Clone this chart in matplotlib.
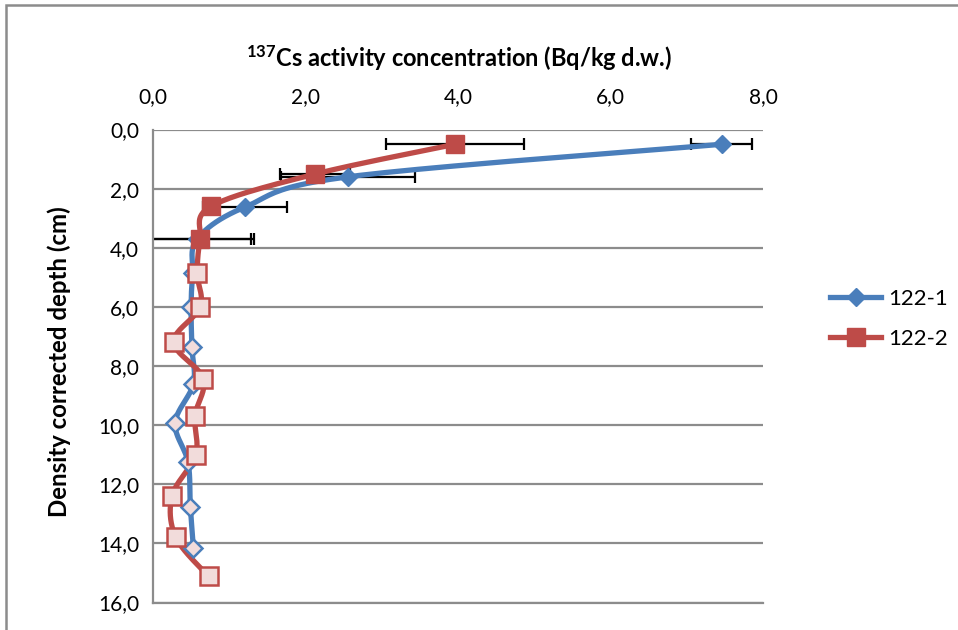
import numpy as np
import matplotlib
matplotlib.use("Agg")
import matplotlib.pyplot as plt
from matplotlib.lines import Line2D
from matplotlib.patches import Rectangle
from matplotlib.ticker import FuncFormatter, MultipleLocator

# ---------------- data ----------------
depth_1 = [0.5, 1.6, 2.62, 3.7, 4.85, 6.0, 7.36, 8.6, 9.93, 11.26, 12.76, 14.16]
conc_1 = [7.46, 2.56, 1.21, 0.58, 0.52, 0.50, 0.51, 0.53, 0.29, 0.46, 0.49, 0.53]
err_1 = [0.40, 0.88, 0.55, 0.71, 0, 0, 0, 0, 0, 0, 0, 0]

depth_2 = [0.5, 1.51, 2.6, 3.72, 4.87, 6.0, 7.19, 8.43, 9.70, 11.0, 12.39, 13.8, 15.12]
conc_2 = [3.96, 2.12, 0.76, 0.62, 0.58, 0.62, 0.27, 0.66, 0.55, 0.56, 0.25, 0.30, 0.73]
err_2 = [0.91, 0.46, 0, 0.71, 0, 0, 0, 0, 0, 0, 0, 0, 0]

n_filled = 4  # first points drawn with solid markers
series_names = ["122-1", "122-2"]

BLUE = "#4A7EBB"
RED = "#BE4B48"
PALE = "#F2DCDB"
GRID = "#8C8C8C"

plt.rcParams["font.family"] = ["Lato", "DejaVu Sans"]
plt.rcParams["mathtext.fontset"] = "custom"
plt.rcParams["mathtext.rm"] = "Lato:bold"
plt.rcParams["mathtext.it"] = "Lato:bold"
plt.rcParams["mathtext.bf"] = "Lato:bold"

W, H = 958, 630
fig = plt.figure(figsize=(W / 100, H / 100), dpi=100)
ax = fig.add_axes([153 / W, (H - 602.5) / H, 610 / W, 473 / H])

ax.set_xlim(0, 8)
ax.set_ylim(16, 0)
ax.xaxis.tick_top()
ax.xaxis.set_major_locator(MultipleLocator(2))
ax.yaxis.set_major_locator(MultipleLocator(2))
fmt = FuncFormatter(lambda v, p: f"{v:.1f}".replace(".", ","))
ax.xaxis.set_major_formatter(fmt)
ax.yaxis.set_major_formatter(fmt)
ax.tick_params(axis="both", length=0, labelsize=15, colors="black")
ax.tick_params(axis="x", pad=16)
ax.tick_params(axis="y", pad=10)
ax.grid(axis="y", color=GRID, lw=1.6)
ax.set_axisbelow(True)
for s in ["top", "right"]:
    ax.spines[s].set_visible(False)
for s in ["left", "bottom"]:
    ax.spines[s].set_color(GRID)
    ax.spines[s].set_linewidth(1.6)


def smooth(xs, ys, n=24):
    pts = ax.transData.transform(np.column_stack([xs, ys]))
    P = np.vstack([pts[0], pts, pts[-1]])
    out = []
    for i in range(1, len(P) - 2):
        p0, p1, p2, p3 = P[i - 1], P[i], P[i + 1], P[i + 2]
        c1 = p1 + (p2 - p0) / 6
        c2 = p2 - (p3 - p1) / 6
        t = np.linspace(0, 1, n)[:, None]
        seg = ((1 - t) ** 3) * p1 + 3 * ((1 - t) ** 2) * t * c1 + 3 * (1 - t) * t ** 2 * c2 + t ** 3 * p2
        out.append(seg if i == 1 else seg[1:])
    out = np.vstack(out)
    d = ax.transData.inverted().transform(out)
    return d[:, 0], d[:, 1]


# error bars (beneath)
for c, d, e in [(conc_1, depth_1, err_1), (conc_2, depth_2, err_2)]:
    c = np.array(c); d = np.array(d); e = np.array(e)
    m = e > 0
    ax.errorbar(c[m], d[m], xerr=e[m], fmt="none", ecolor="black", elinewidth=1.6,
                capsize=4, capthick=1.6, zorder=2)

specs = [(conc_1, depth_1, BLUE, "D", 9.5), (conc_2, depth_2, RED, "s", 13)]
for c, d, col, mk, ms in specs:
    c = np.array(c); d = np.array(d)
    sx, sy = smooth(c, d)
    ax.plot(sx, sy, color=col, lw=3.8, solid_capstyle="round", zorder=3)
    ax.plot(c[n_filled:], d[n_filled:], ls="none", marker=mk, ms=ms, mfc=PALE, mec=col,
            mew=1.8, zorder=4)
    ax.plot(c[:n_filled], d[:n_filled], ls="none", marker=mk, ms=ms, mfc=col, mec=col,
            mew=1.0, zorder=5)

# titles
fig.text(459 / W, 1 - 58 / H, r"$^{137}$Cs activity concentration (Bq/kg d.w.)",
         ha="center", va="center", fontsize=17, fontweight="bold")
fig.text(59 / W, 1 - 362 / H, "Density corrected depth (cm)", rotation=90,
         ha="center", va="center", fontsize=17.3, fontweight="bold")

# legend
handles = [Line2D([], [], color=BLUE, lw=3.8, marker="D", ms=9.5, mfc=BLUE, mec=BLUE),
           Line2D([], [], color=RED, lw=3.8, marker="s", ms=13, mfc=RED, mec=RED)]
fig.legend(handles, series_names, loc="center left", bbox_to_anchor=(810 / W, 1 - 319 / H),
           frameon=False, fontsize=16, handlelength=2.3, labelspacing=0.9, handletextpad=0.3)

# outer chart border
fig.add_artist(Rectangle((6 / W, -0.5), 2.0, (H - 5) / H + 0.5, transform=fig.transFigure,
                         fill=False, edgecolor=GRID, lw=1.8))

fig.savefig("out.png", dpi=100)
